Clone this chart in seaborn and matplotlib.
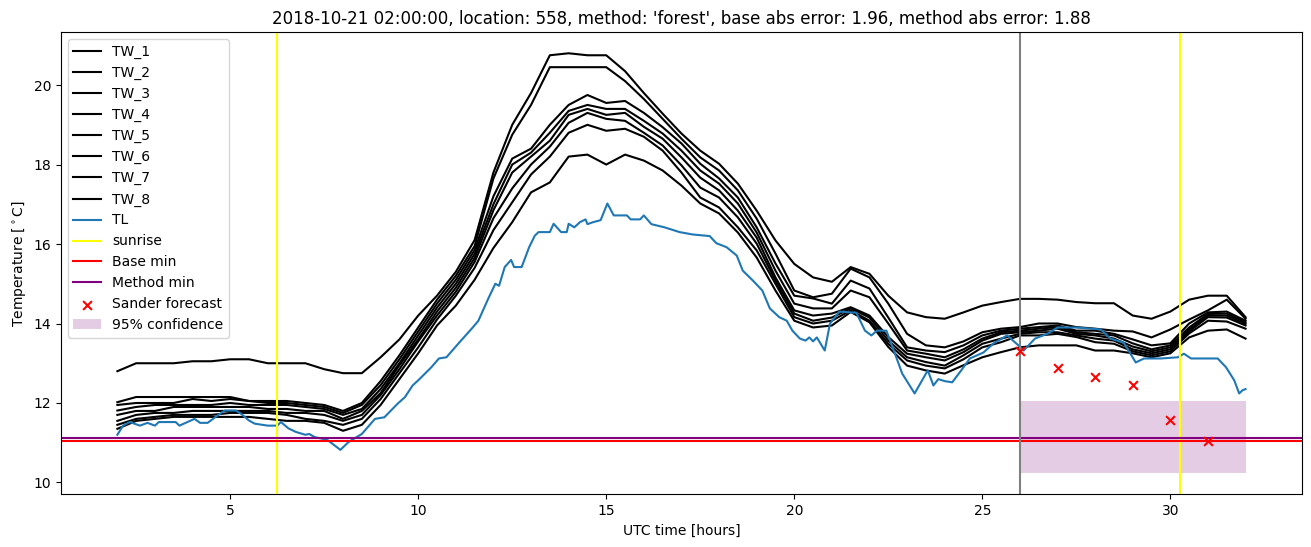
import matplotlib
matplotlib.use("Agg")
import matplotlib.pyplot as plt
import seaborn as sns

# === DATA ===
hours = [2.0, 2.5, 3.0, 3.5, 4.0, 4.5, 5.0, 5.5, 6.0, 6.5,
         7.0, 7.5, 8.0, 8.5, 9.0, 9.5, 10.0, 10.5, 11.0, 11.5,
         12.0, 12.5, 13.0, 13.5, 14.0, 14.5, 15.0, 15.5, 16.0, 16.5,
         17.0, 17.5, 18.0, 18.5, 19.0, 19.5, 20.0, 20.5, 21.0, 21.5,
         22.0, 22.5, 23.0, 23.5, 24.0, 24.5, 25.0, 25.5, 26.0, 26.5,
         27.0, 27.5, 28.0, 28.5, 29.0, 29.5, 30.0, 30.5, 31.0, 31.5, 32.0]

tw_1 = [12.8, 13.0, 13.0, 13.0, 13.05, 13.05, 13.1, 13.1, 13.0, 13.0,
        13.0, 12.85, 12.75, 12.75, 13.15, 13.6, 14.2, 14.7, 15.3, 16.1,
        17.8, 19.0, 19.8, 20.75, 20.8, 20.75, 20.75, 20.35, 19.8, 19.28,
        18.78, 18.35, 18.02, 17.52, 16.84, 16.09, 15.5, 15.16, 15.05, 15.42,
        15.25, 14.7, 14.28, 14.16, 14.12, 14.28, 14.45, 14.54, 14.62, 14.62,
        14.6, 14.54, 14.51, 14.51, 14.2, 14.12, 14.3, 14.6, 14.7, 14.7, 14.16]
tw_2 = [12.02, 12.15, 12.15, 12.15, 12.15, 12.15, 12.15, 12.05, 12.05, 12.05,
        12.0, 11.95, 11.8, 12.0, 12.55, 13.2, 13.9, 14.6, 15.2, 15.95,
        17.65, 18.75, 19.5, 20.45, 20.45, 20.45, 20.45, 20.1, 19.65, 19.15,
        18.65, 18.18, 17.85, 17.35, 16.64, 15.76, 14.83, 14.66, 14.75, 15.38,
        15.16, 14.5, 13.74, 13.45, 13.4, 13.55, 13.78, 13.87, 13.91, 14.0,
        14.0, 13.91, 13.87, 13.82, 13.8, 13.65, 13.85, 14.1, 14.33, 14.6, 14.12]
tw_3 = [11.95, 12.0, 12.0, 12.0, 12.1, 12.05, 12.1, 12.05, 12.0, 12.0,
        11.95, 11.9, 11.75, 11.95, 12.45, 13.1, 13.8, 14.5, 15.1, 15.85,
        17.2, 18.15, 18.4, 19.0, 19.5, 19.75, 19.55, 19.6, 19.3, 18.94,
        18.53, 18.02, 17.65, 17.17, 16.42, 15.51, 14.7, 14.63, 14.5, 15.08,
        14.88, 14.15, 13.4, 13.32, 13.28, 13.45, 13.7, 13.82, 13.87, 13.91,
        13.95, 13.82, 13.82, 13.74, 13.6, 13.45, 13.5, 14.0, 14.28, 14.3, 14.07]
tw_4 = [11.81, 11.9, 11.95, 11.95, 11.95, 11.95, 12.0, 11.95, 11.95, 11.95,
        11.9, 11.85, 11.7, 11.85, 12.35, 13.0, 13.7, 14.4, 15.0, 15.75,
        17.0, 18.0, 18.3, 18.8, 19.35, 19.5, 19.4, 19.4, 19.1, 18.78,
        18.35, 17.85, 17.52, 17.02, 16.29, 15.33, 14.5, 14.38, 14.38, 14.83,
        14.66, 14.0, 13.32, 13.24, 13.15, 13.35, 13.62, 13.78, 13.82, 13.87,
        13.91, 13.78, 13.74, 13.7, 13.5, 13.35, 13.45, 13.9, 14.24, 14.25, 14.03]
tw_5 = [11.7, 11.8, 11.8, 11.9, 11.9, 11.9, 11.9, 11.9, 11.85, 11.85,
        11.8, 11.8, 11.6, 11.8, 12.25, 12.95, 13.6, 14.3, 14.9, 15.65,
        16.85, 17.8, 18.2, 18.6, 19.25, 19.4, 19.25, 19.3, 18.95, 18.65,
        18.18, 17.67, 17.35, 16.84, 16.16, 15.16, 14.33, 14.2, 14.25, 14.41,
        14.2, 13.66, 13.24, 13.15, 13.07, 13.28, 13.57, 13.74, 13.78, 13.82,
        13.87, 13.74, 13.7, 13.62, 13.42, 13.3, 13.4, 13.85, 14.2, 14.2, 13.99]
tw_6 = [11.55, 11.7, 11.75, 11.75, 11.8, 11.8, 11.8, 11.8, 11.8, 11.75,
        11.75, 11.7, 11.55, 11.7, 12.2, 12.85, 13.55, 14.2, 14.8, 15.55,
        16.65, 17.4, 18.0, 18.45, 19.05, 19.3, 19.15, 19.1, 18.8, 18.48,
        17.98, 17.42, 17.17, 16.67, 16.01, 15.08, 14.25, 14.07, 14.15, 14.38,
        14.15, 13.57, 13.15, 13.03, 12.94, 13.2, 13.49, 13.62, 13.74, 13.78,
        13.78, 13.7, 13.62, 13.57, 13.35, 13.25, 13.35, 13.8, 14.16, 14.15, 13.95]
tw_7 = [11.45, 11.6, 11.65, 11.7, 11.7, 11.7, 11.75, 11.75, 11.75, 11.7,
        11.6, 11.55, 11.45, 11.6, 12.1, 12.75, 13.4, 14.1, 14.7, 15.4,
        16.35, 17.05, 17.75, 18.2, 18.8, 19.0, 18.85, 18.9, 18.7, 18.35,
        17.8, 17.17, 16.92, 16.42, 15.84, 15.0, 14.16, 14.0, 14.07, 14.33,
        14.07, 13.49, 13.07, 12.94, 12.87, 13.1, 13.4, 13.53, 13.7, 13.7,
        13.74, 13.66, 13.53, 13.49, 13.3, 13.2, 13.3, 13.75, 14.07, 14.05, 13.87]
tw_8 = [11.35, 11.55, 11.6, 11.65, 11.65, 11.65, 11.65, 11.65, 11.6, 11.55,
        11.55, 11.5, 11.3, 11.45, 11.95, 12.6, 13.25, 13.95, 14.45, 15.1,
        15.9, 16.55, 17.3, 17.55, 18.2, 18.25, 18.0, 18.25, 18.1, 17.85,
        17.47, 17.02, 16.77, 16.29, 15.66, 14.83, 14.07, 13.9, 13.95, 14.29,
        14.03, 13.41, 12.94, 12.82, 12.74, 12.95, 13.15, 13.28, 13.4, 13.45,
        13.45, 13.45, 13.32, 13.32, 13.25, 13.15, 13.25, 13.65, 13.82, 13.85, 13.62]

tl_hours = [2.0, 2.15, 2.33, 2.6, 2.8, 3.0, 3.1, 3.55, 3.65, 4.05,
            4.2, 4.4, 4.6, 4.85, 5.15, 5.3, 5.5, 5.65, 6.0, 6.25,
            6.35, 6.55, 6.75, 7.0, 7.1, 7.25, 7.45, 7.6, 7.93, 8.15,
            8.5, 8.85, 9.1, 9.45, 9.65, 9.85, 10.0, 10.35, 10.55, 10.75,
            11.1, 11.45, 11.6, 11.85, 12.05, 12.15, 12.3, 12.47, 12.55, 12.75,
            12.95, 13.1, 13.2, 13.5, 13.6, 13.8, 13.95, 14.0, 14.15, 14.3,
            14.45, 14.5, 14.65, 14.85, 15.03, 15.2, 15.55, 15.65, 15.9, 16.0,
            16.2, 16.55, 16.95, 17.3, 17.75, 17.93, 18.2, 18.47, 18.63, 18.9,
            19.15, 19.35, 19.6, 19.8, 19.95, 20.15, 20.3, 20.4, 20.5, 20.6,
            20.81, 20.95, 21.2, 21.65, 21.88, 22.05, 22.2, 22.45, 22.55, 22.87,
            23.2, 23.4, 23.55, 23.7, 23.83, 24.0, 24.2, 24.4, 24.67, 25.03,
            25.3, 25.66, 25.96, 26.1, 26.4, 26.75, 27.0, 27.5, 28.15, 28.41,
            28.76, 29.08, 29.3, 29.75, 30.2, 30.36, 30.55, 31.26, 31.48, 31.7,
            31.83, 31.92, 32.0]
tl_temp = [11.2, 11.43, 11.52, 11.43, 11.5, 11.43, 11.52, 11.52, 11.43, 11.6,
           11.5, 11.5, 11.64, 11.81, 11.81, 11.72, 11.56, 11.48, 11.43, 11.43,
           11.52, 11.36, 11.27, 11.2, 11.22, 11.14, 11.1, 11.06, 10.82, 11.02,
           11.22, 11.6, 11.64, 11.98, 12.15, 12.44, 12.57, 12.9, 13.12, 13.15,
           13.53, 13.9, 14.07, 14.6, 15.0, 14.95, 15.42, 15.6, 15.42, 15.42,
           15.92, 16.21, 16.3, 16.3, 16.51, 16.3, 16.3, 16.51, 16.42, 16.55,
           16.62, 16.5, 16.55, 16.6, 17.02, 16.72, 16.72, 16.62, 16.62, 16.72,
           16.5, 16.42, 16.3, 16.24, 16.2, 16.02, 15.92, 15.71, 15.33, 15.08,
           14.83, 14.38, 14.16, 14.07, 13.82, 13.62, 13.57, 13.65, 13.55, 13.65,
           13.32, 14.0, 14.3, 14.27, 13.82, 13.7, 13.82, 13.82, 13.57, 12.74,
           12.24, 12.57, 12.82, 12.44, 12.6, 12.55, 12.52, 12.77, 13.12, 13.27,
           13.5, 13.7, 13.45, 13.32, 13.62, 13.75, 13.9, 13.9, 13.85, 13.62,
           13.52, 13.02, 13.12, 13.12, 13.15, 13.24, 13.12, 13.12, 12.9, 12.57,
           12.24, 12.32, 12.35]

sunrise_hours = [6.25, 30.27]
forecast_start = 26.0
base_min = 11.05
method_min = 11.13
forecast_hours = [26, 27, 28, 29, 30, 31]
forecast_temp = [13.3, 12.88, 12.66, 12.46, 11.58, 11.05]
conf_hours = [26, 32]
conf_low = 10.23
conf_high = 12.04

TITLE = ("2018-10-21 02:00:00, location: 558, method: 'forest', "
         "base abs error: 1.96, method abs error: 1.88")

# === PLOT ===
fig, ax = plt.subplots(figsize=(13.11, 5.47), dpi=100)
fig.subplots_adjust(left=0.0465, right=0.9931, bottom=0.0963, top=0.941)

tw_all = [tw_1, tw_2, tw_3, tw_4, tw_5, tw_6, tw_7, tw_8]
for i, vals in enumerate(tw_all):
    sns.lineplot(x=hours, y=vals, color="black", label=f"TW_{i + 1}",
                 estimator=None, ax=ax)
sns.lineplot(x=tl_hours, y=tl_temp, color="#1f77b4", label="TL",
             estimator=None, ax=ax)

for i, h in enumerate(sunrise_hours):
    ax.axvline(h, color="yellow", label="sunrise" if i == 0 else None)
ax.axhline(base_min, color="red", label="Base min")
ax.axhline(method_min, color="purple", label="Method min")
ax.axvline(forecast_start, color="gray")

sns.scatterplot(x=forecast_hours, y=forecast_temp, marker="x", color="red",
                s=40, linewidth=1.5, label="Sander forecast", zorder=3, ax=ax)
ax.fill_between(conf_hours, conf_low, conf_high, color="purple", alpha=0.2,
                linewidth=0, label="95% confidence")

ax.set_title(TITLE)
ax.set_xlabel("UTC time [hours]")
ax.set_ylabel("Temperature [$^\\circ$C]")
ax.legend(loc="upper left")

plt.savefig("out.png", dpi=100)
